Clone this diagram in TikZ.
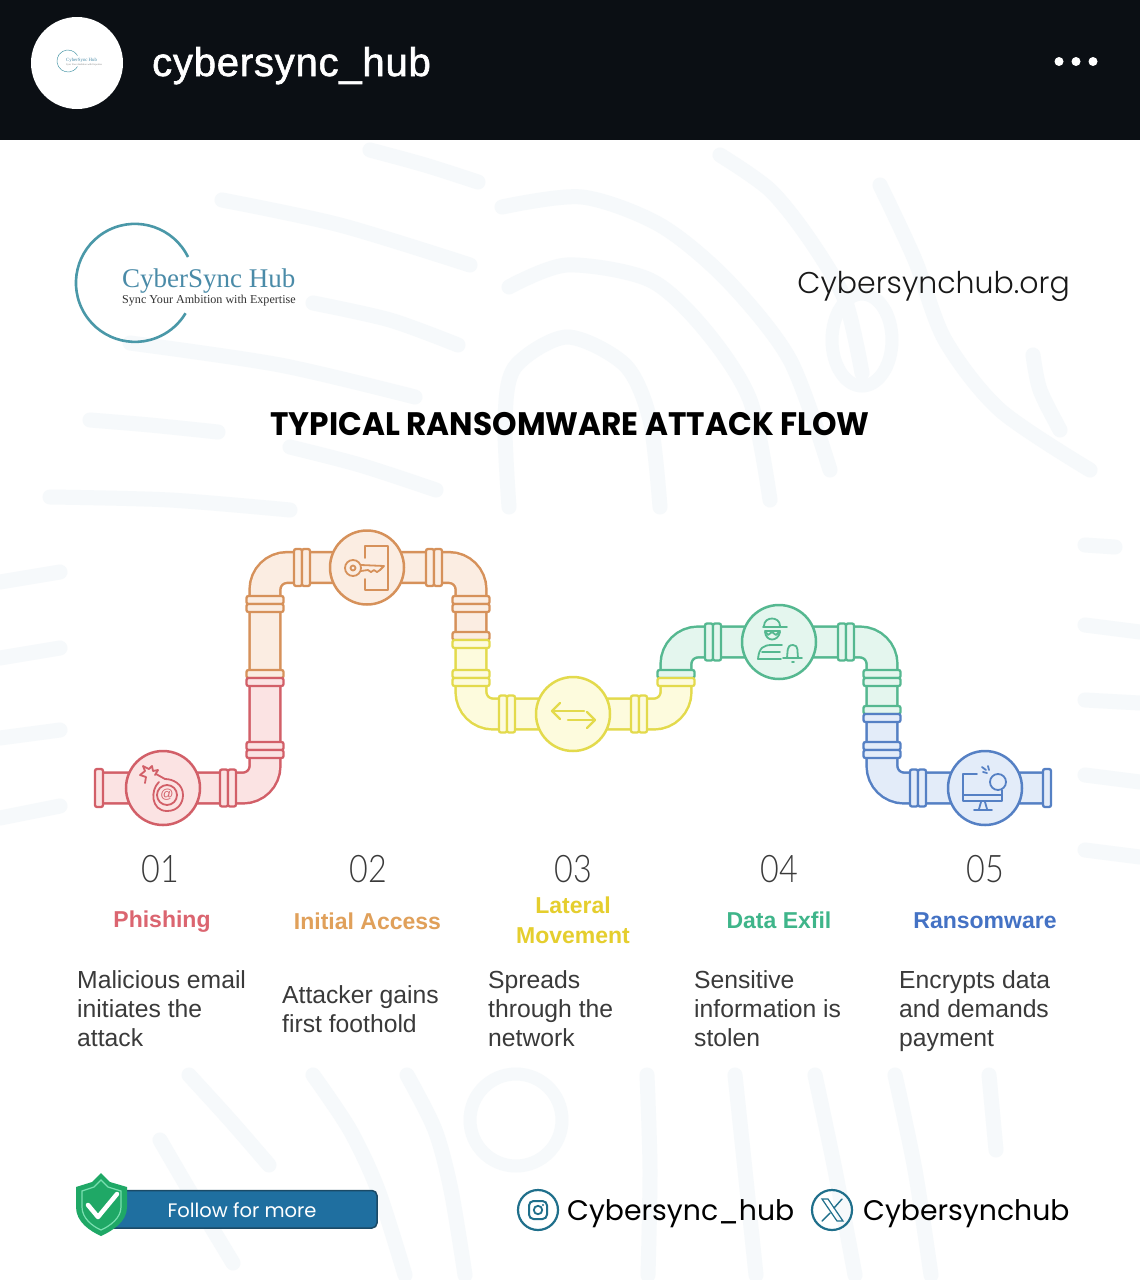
\documentclass[tikz,border=0pt]{standalone}
\usepackage{fontspec}
\setmainfont{Liberation Sans}
\newfontfamily\hdrfont[FakeBold=1.5,LetterSpace=2]{Liberation Sans}
\newfontfamily\popfont{Poppins}
\newfontfamily\poplight{Poppins Light}
\newfontfamily\titlefont[FakeStretch=0.96]{Poppins Bold}
\newfontfamily\numfont[FakeStretch=0.85]{Lato Light}
\newfontfamily\logofont{Liberation Serif}
\definecolor{hdr}{HTML}{0B0F14}
\definecolor{wm}{HTML}{F6F9FB}
\definecolor{teal}{HTML}{4A98A8}
\definecolor{tealtx}{HTML}{4A8BA8}
\definecolor{socl}{HTML}{1F6F8B}
\definecolor{bar}{HTML}{1F6FA0}
\definecolor{barl}{HTML}{1B4A66}
\definecolor{shld}{HTML}{1FA866}
\definecolor{shll}{HTML}{7ADFB0}
\definecolor{bodyc}{HTML}{3A3A3A}
\definecolor{rdl}{HTML}{D25F68}\definecolor{rdf}{HTML}{FBE3E3}
\definecolor{orl}{HTML}{D6915A}\definecolor{orf}{HTML}{FBEDE2}
\definecolor{yel}{HTML}{E3DA4C}\definecolor{yef}{HTML}{FDFBDD}
\definecolor{grl}{HTML}{55B890}\definecolor{grf}{HTML}{E4F6EE}
\definecolor{bll}{HTML}{5580C4}\definecolor{blf}{HTML}{E3ECF9}
\definecolor{rdt}{HTML}{DB6570}\definecolor{ort}{HTML}{E0A05A}
\definecolor{yet}{HTML}{E5CE2E}\definecolor{grt}{HTML}{3FB58A}\definecolor{blt}{HTML}{4472C4}
\tikzset{
  wmline/.style={wm,line width=15pt,line cap=round,line join=round},
  pipe/.style n args={2}{draw=#1,double=#2,line width=2.5pt,double distance=28.2pt,rounded corners=22pt,line cap=butt},
  valve/.style n args={2}{circle,draw=#1,fill=#2,line width=2.5pt,minimum size=74pt,inner sep=0pt},
  icon/.style={draw=#1,line width=1.8pt,line cap=round,line join=round},
  numtext/.style={font=\numfont\fontsize{38}{40}\selectfont,text=bodyc,inner sep=0pt},
  headtext/.style={font=\bfseries\fontsize{23}{29.5}\selectfont,text=#1,align=center,inner sep=0pt},
  bodytext/.style={font=\fontsize{24.7}{29.4}\selectfont,text=bodyc,align=left,anchor=north west,inner sep=0pt},
  soctext/.style={font=\popfont\fontsize{28.3}{32}\selectfont,text=black,inner sep=0pt},
  socring/.style={circle,draw=socl,line width=2.2pt,minimum size=40pt,inner sep=0pt}
}
% flange across a vertical pipe: top half, bottom half
\newcommand{\hflange}[5]{%
  \draw[draw=#2,fill=#3,line width=2.3pt,rounded corners=2pt] ($(#1)+(-18.5,-8)$) rectangle ($(#1)+(18.5,0)$);
  \draw[draw=#4,fill=#5,line width=2.3pt,rounded corners=2pt] ($(#1)+(-18.5,0)$) rectangle ($(#1)+(18.5,8)$);}
% flange across a horizontal pipe
\newcommand{\vflange}[3]{%
  \draw[draw=#2,fill=#3,line width=2.3pt,rounded corners=2pt] ($(#1)+(-8,-18.5)$) rectangle ($(#1)+(0,18.5)$);
  \draw[draw=#2,fill=#3,line width=2.3pt,rounded corners=2pt] ($(#1)+(0,-18.5)$) rectangle ($(#1)+(8,18.5)$);}
\usetikzlibrary{calc}
\begin{document}
\begin{tikzpicture}[x=1pt,y=-1pt]
\useasboundingbox (0,0) rectangle (1140,1280);
\fill[white] (0,0) rectangle (1140,1280);
% watermark
\foreach \p in {
 {(370,150)(425,165)(478,182)},
 {(222,200)(340,225)(470,265)},
 {(130,343)(280,365)(415,397)},
 {(313,303)(390,320)(458,345)},
 {(90,420)(150,425)(218,432)},
 {(50,497)(170,500)(290,510)},
 {(290,447)(360,465)(436,490)},
 {(502,207)(582,197)(660,225)(727,280)(790,360)(830,470)},
 {(509,287)(567,265)(650,280)(705,330)(750,400)(770,500)},
 {(509,507)(505,420)(515,367)(567,337)(625,365)(650,420)(660,507)},
 {(720,155)(770,190)(810,240)(845,300)(862,373)},
 {(880,185)(915,260)(945,340)(1000,410)(1090,470)},
 {(1033,355)(1040,390)(1060,430)},
 {(189,1075)(230,1120)(269,1165)},
 {(313,1075)(350,1130)(378,1190)(405,1275)},
 {(407,1075)(435,1130)(451,1190)(465,1275)},
 {(647,1075)(650,1170)(648,1275)},
 {(735,1075)(745,1170)(756,1275)},
 {(815,1075)(835,1170)(855,1275)},
 {(895,1075)(915,1170)(931,1275)},
 {(989,1075)(996,1150)},
 {(160,1140)(195,1200)(233,1263)},
 {(0,582)(60,572)},{(0,658)(60,648)},{(0,738)(60,730)},{(0,818)(60,806)},
 {(1085,545)(1115,547)},{(1085,625)(1140,632)},{(1085,700)(1140,703)},{(1085,775)(1140,782)},{(1085,850)(1140,857)}}
 {\draw[wmline] plot[smooth] coordinates \p;}
\draw[wm,line width=13pt] (516,1120) circle (46pt);
\draw[wm,line width=13pt] (862,340) ellipse (30pt and 46pt);
% header
\fill[hdr] (0,0) rectangle (1140,140);
\node[circle,fill=white,minimum size=92pt,inner sep=0pt] (avatar) at (77,63) {};
\draw[teal,line width=0.5pt] (77.5,55.5) arc[start angle=30,end angle=330,radius=11pt];
\node[font=\logofont\fontsize{4.8}{5}\selectfont,text=tealtx,inner sep=0pt,anchor=west] (avlogo) at (66,60.5) {CyberSync Hub};
\node[font=\logofont\fontsize{2.5}{3}\selectfont,text=gray,inner sep=0pt,anchor=west] (avsub) at (66,64.5) {Sync Your Ambition with Expertise};
\node[font=\hdrfont\fontsize{40}{42}\selectfont,text=white,anchor=base west,inner sep=0pt] (hname) at (152,76) {cybersync\_hub};
\foreach \x/\n in {1059/a,1076/b,1093/c} \node[circle,fill=white,minimum size=9pt,inner sep=0pt] (dot\n) at (\x,61.5) {};
% logo
\draw[teal,line width=2.6pt] (188,257) arc[start angle=26,end angle=329,radius=59pt];
\node[font=\logofont\fontsize{27}{30}\selectfont,text=tealtx,anchor=base west,inner sep=0pt] (logo) at (122,287) {CyberSync Hub};
\node[font=\logofont\fontsize{12.1}{14}\selectfont,text=black!80,anchor=base west,inner sep=0pt] (logosub) at (122,303) {Sync Your Ambition with Expertise};
\node[font=\poplight\fontsize{30}{34}\selectfont,text=black!90,anchor=base east,inner sep=0pt] (site) at (1070,293) {Cybersynchub.org};
\node[font=\titlefont\fontsize{32.5}{36}\selectfont,text=black,inner sep=0pt] (title) at (570,424) {TYPICAL RANSOMWARE ATTACK FLOW};
% pipe coordinates
\coordinate (c1) at (163,788); \coordinate (c2) at (367,567.5); \coordinate (c3) at (573,714);
\coordinate (c4) at (779,642); \coordinate (c5) at (985,788);
\coordinate (s) at (99,788); \coordinate (e1) at (265,788); \coordinate (t1) at (265,678);
\coordinate (e2) at (265,567.5); \coordinate (e3) at (471,567.5); \coordinate (t2) at (471,640);
\coordinate (e4) at (471,714); \coordinate (e5) at (676,714); \coordinate (t3) at (676,678);
\coordinate (e6) at (676,642); \coordinate (e7) at (882,642); \coordinate (t4) at (882,714);
\coordinate (e8) at (882,788); \coordinate (z) at (1047,788);
\draw[pipe={rdl}{rdf}] (s) -- (c1) -- (e1) -- (t1);
\draw[pipe={orl}{orf}] (t1) -- (e2) -- (e3) -- (t2);
\draw[pipe={yel}{yef}] (t2) -- (e4) -- (e5) -- (t3);
\draw[pipe={grl}{grf}] (t3) -- (e6) -- (e7) -- (t4);
\draw[pipe={bll}{blf}] (t4) -- (e8) -- (z);
% flanges
\draw[draw=rdl,fill=rdf,line width=2.3pt,rounded corners=2pt] (95,769) rectangle (103,807);
\vflange{228,788}{rdl}{rdf}
\hflange{265,750}{rdl}{rdf}{rdl}{rdf}
\hflange{265,678}{orl}{orf}{rdl}{rdf}
\hflange{265,604}{orl}{orf}{orl}{orf}
\vflange{302,567.5}{orl}{orf}
\vflange{434,567.5}{orl}{orf}
\hflange{471,604}{orl}{orf}{orl}{orf}
\hflange{471,640}{orl}{orf}{yel}{yef}
\hflange{471,678}{yel}{yef}{yel}{yef}
\vflange{507,714}{yel}{yef}
\vflange{639,714}{yel}{yef}
\hflange{676,678}{grl}{grf}{yel}{yef}
\vflange{713,642}{grl}{grf}
\vflange{846,642}{grl}{grf}
\hflange{882,678}{grl}{grf}{grl}{grf}
\hflange{882,714}{grl}{grf}{bll}{blf}
\hflange{882,750}{bll}{blf}{bll}{blf}
\vflange{918,788}{bll}{blf}
\draw[draw=bll,fill=blf,line width=2.3pt,rounded corners=2pt] (1043,769) rectangle (1051,807);
% valves
\node[valve={rdl}{rdf}] (v1) at (c1) {};
\node[valve={orl}{orf}] (v2) at (c2) {};
\node[valve={yel}{yef}] (v3) at (c3) {};
\node[valve={grl}{grf}] (v4) at (c4) {};
\node[valve={bll}{blf}] (v5) at (c5) {};
% icon 1: bomb
\draw[icon=rdl] (159,782) .. controls (150,790) and (151,811) .. (167,811) .. controls (178,811) and (183,803) .. (183,795) .. controls (183,784) and (173,779) .. (165,779) -- (156,774);
\draw[icon=rdl] (167,795) circle (10pt);
\node[font=\fontsize{13}{13}\selectfont,text=rdl,inner sep=0pt] (bombat) at (167,795) {@};
\draw[icon=rdl] (145,783) -- (146,777) -- (140,775) -- (145,771) -- (143,766) -- (149,769) -- (152,766) -- (153,771) -- (158,770) -- (155,775);
% icon 2: key and door
\draw[icon=orl] (353,568) circle (8pt);
\draw[icon=orl] (353,568) circle (2.5pt);
\draw[icon=orl] (361,565) -- (384,566) -- (380,570) -- (377,572) -- (374,570) -- (371,572) -- (368,570) -- (361,571);
\draw[icon=orl] (365,558) -- (365,546) -- (388,546) -- (388,590) -- (365,590) -- (365,579);
% icon 3: arrows
\draw[icon=yel,line width=2.2pt] (584,711) -- (552,711);
\draw[icon=yel,line width=2.2pt] (560,703) -- (552,711) -- (560,719);
\draw[icon=yel,line width=2.2pt] (568,720) -- (595,720);
\draw[icon=yel,line width=2.2pt] (587,712) -- (595,720) -- (587,728);
% icon 4: person and bell
\draw[icon=grl] (764,626) .. controls (764,616) and (780,616) .. (780,626);
\draw[icon=grl] (763,627) -- (787,627);
\draw[icon=grl] (765,631) -- (780,631) -- (776,635) -- (772,632) -- (768,635) -- cycle;
\draw[icon=grl] (765,632) .. controls (766,642) and (778,642) .. (780,632);
\draw[icon=grl] (758,659) .. controls (759,648) and (763,645) .. (772,645) -- (782,645);
\draw[icon=grl] (762,652) -- (780,652);
\draw[icon=grl] (758,659) -- (781,659);
\draw[icon=grl] (783,658) -- (802,658);
\draw[icon=grl] (787,658) .. controls (788,652) and (786,645) .. (793,645) .. controls (799,645) and (797,652) .. (798,658);
\draw[icon=grl] (792,662) -- (794,662);
% icon 5: monitor
\draw[icon=bll] (977,774) -- (963,774) -- (963,801) -- (1002,801) -- (1002,790);
\draw[icon=bll] (963,795) -- (1002,795);
\draw[icon=bll] (981,802) -- (979,809);
\draw[icon=bll] (985,802) -- (987,809);
\draw[icon=bll] (974,810) -- (992,810);
\draw[icon=bll] (998,782) circle (8pt);
\draw[icon=bll] (982,767) -- (986,770);
\draw[icon=bll] (988,766) -- (989,770);
\draw[icon=bll] (983,772) -- (987,773);
% numbers
\node[numtext] (n1) at (160,869) {01};
\node[numtext] (n2) at (368,869) {02};
\node[numtext] (n3) at (573,869) {03};
\node[numtext] (n4) at (779,869) {04};
\node[numtext] (n5) at (985,869) {05};
% step headings
\node[headtext=rdt] (h1) at (162,922) {Phishing};
\node[headtext=ort] (h2) at (367.5,921) {Initial Access};
\node[headtext=yet] (h3) at (573,920.5) {Lateral\\Movement};
\node[headtext=grt] (h4) at (779,920.5) {Data Exfil};
\node[headtext=blt] (h5) at (985,920.5) {Ransomware};
% descriptions
\node[bodytext] (b1) at (77,970) {Malicious email\\initiates the\\attack};
\node[bodytext] (b2) at (282,985) {Attacker gains\\first foothold};
\node[bodytext] (b3) at (488,970) {Spreads\\through the\\network};
\node[bodytext] (b4) at (694,970) {Sensitive\\information is\\stolen};
\node[bodytext] (b5) at (899,970) {Encrypts data\\and demands\\payment};
% follow banner
\draw[draw=barl,fill=bar,line width=1.5pt,rounded corners=5pt] (100,1190.5) rectangle (377,1228);
\node[font=\popfont\fontsize{19.5}{22}\selectfont,text=white,inner sep=0pt] (follow) at (242,1210) {Follow for more};
\fill[shld] (101,1173) -- (110,1182) -- (127,1187) -- (127,1207) .. controls (127,1222) and (112,1231) .. (101,1236) .. controls (90,1231) and (76,1222) .. (76,1207) -- (76,1187) -- (92,1182) -- cycle;
\draw[shll,line width=1.2pt] (101,1180) -- (108,1187) -- (121,1191) -- (121,1207) .. controls (121,1218) and (110,1226) .. (101,1230) .. controls (92,1226) and (82,1218) .. (82,1207) -- (82,1191) -- (94,1187) -- cycle;
\draw[white,line width=4.5pt,line cap=round,line join=round] (88,1205) -- (98,1217) -- (117,1194);
% social
\node[socring] (ig) at (538,1210) {};
\draw[socl,line width=2pt,rounded corners=4.5pt] (529,1201) rectangle (547,1219);
\draw[socl,line width=1.8pt] (538,1210) circle (4.2pt);
\fill[socl] (543,1205) circle (1.1pt);
\node[soctext,anchor=base west] (igname) at (567,1220) {Cybersync\_hub};
\node[socring] (xx) at (832,1210) {};
\draw[socl,line width=1.2pt] (822,1199) -- (828,1199) -- (843,1221) -- (837,1221) -- cycle;
\draw[socl,line width=1.4pt,line cap=round] (842,1199) -- (834,1208);
\draw[socl,line width=1.4pt,line cap=round] (830,1213) -- (822,1221);
\node[soctext,anchor=base west] (xname) at (863,1220) {Cybersynchub};
\end{tikzpicture}
\end{document}
